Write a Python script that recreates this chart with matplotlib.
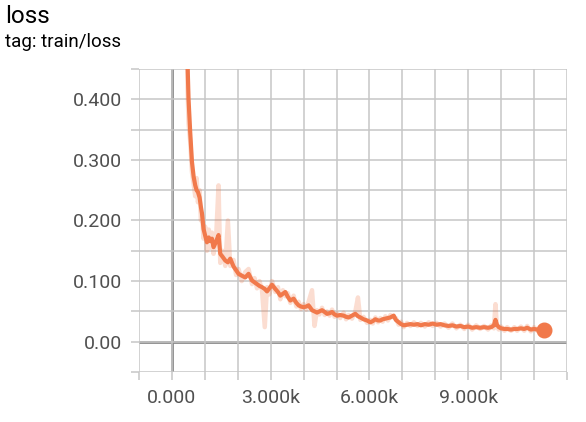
import numpy as np
import matplotlib
matplotlib.use("Agg")
import matplotlib.pyplot as plt
from matplotlib.ticker import MultipleLocator, FuncFormatter

plt.rcParams.update({
    'font.family': ['Roboto', 'DejaVu Sans'],
})

# ── data ────────────────────────────────────────────────
steps = [440, 474, 505, 556, 608, 660, 708, 750, 790, 840, 881, 912, 960, 1010,
         1064, 1120, 1170, 1216, 1264, 1340, 1416, 1468, 1540, 1620, 1700, 1772,
         1872, 1950, 2024, 2120, 2228, 2328, 2432, 2510, 2584, 2660, 2736, 2820,
         2888, 2960, 3040, 3140, 3220, 3292, 3370, 3444, 3520, 3596, 3696, 3780,
         3848, 3920, 4000, 4080, 4152, 4255, 4330, 4407, 4480, 4559, 4640, 4711,
         4790, 4863, 4940, 5015, 5110, 5216, 5290, 5368, 5470, 5571, 5650, 5723,
         5820, 5927, 6027, 6100, 6179, 6260, 6331, 6400, 6483, 6560, 6635, 6736,
         6800, 6888, 6960, 7040, 7140, 7243, 7350, 7460, 7560, 7680, 7800, 7920,
         8040, 8160, 8280, 8400, 8520, 8640, 8760, 8880, 9000, 9120, 9240, 9360,
         9480, 9600, 9700, 9780, 9827, 9870, 9927, 10000, 10100, 10182, 10300,
         10400, 10486, 10600, 10700, 10790, 10900, 11000, 11094, 11200, 11295]

loss_smooth = [0.75, 0.46, 0.40, 0.345, 0.297, 0.272, 0.258, 0.250, 0.247, 0.238,
               0.222, 0.212, 0.186, 0.175, 0.164, 0.172, 0.166, 0.170, 0.156, 0.165,
               0.176, 0.145, 0.140, 0.134, 0.131, 0.137, 0.124, 0.118, 0.112, 0.109,
               0.106, 0.112, 0.101, 0.098, 0.095, 0.092, 0.090, 0.087, 0.083, 0.088,
               0.094, 0.087, 0.082, 0.076, 0.079, 0.082, 0.074, 0.068, 0.071, 0.064,
               0.060, 0.058, 0.057, 0.058, 0.060, 0.052, 0.050, 0.048, 0.050, 0.052,
               0.049, 0.046, 0.047, 0.049, 0.045, 0.043, 0.044, 0.043, 0.041, 0.040,
               0.043, 0.046, 0.042, 0.040, 0.037, 0.035, 0.032, 0.034, 0.037, 0.035,
               0.035, 0.037, 0.038, 0.039, 0.040, 0.043, 0.036, 0.032, 0.029, 0.027,
               0.028, 0.029, 0.028, 0.029, 0.027, 0.029, 0.028, 0.030, 0.028, 0.029,
               0.027, 0.026, 0.027, 0.025, 0.026, 0.024, 0.025, 0.023, 0.024, 0.023,
               0.024, 0.023, 0.024, 0.027, 0.036, 0.028, 0.024, 0.022, 0.021, 0.021,
               0.020, 0.021, 0.021, 0.022, 0.021, 0.023, 0.020, 0.021, 0.020, 0.020,
               0.020]

loss_raw = [0.80, 0.42, 0.36, 0.33, 0.28, 0.26, 0.24, 0.27, 0.23, 0.25, 0.20, 0.21,
            0.17, 0.19, 0.15, 0.185, 0.155, 0.18, 0.145, 0.17, 0.258, 0.13, 0.15,
            0.125, 0.20, 0.125, 0.135, 0.11, 0.12, 0.10, 0.115, 0.12, 0.095, 0.105,
            0.088, 0.10, 0.085, 0.024, 0.09, 0.078, 0.10, 0.082, 0.09, 0.07, 0.085,
            0.075, 0.08, 0.064, 0.076, 0.058, 0.066, 0.054, 0.062, 0.053, 0.066,
            0.085, 0.026, 0.052, 0.045, 0.056, 0.044, 0.05, 0.043, 0.053, 0.041,
            0.047, 0.039, 0.048, 0.037, 0.044, 0.038, 0.05, 0.073, 0.036, 0.041,
            0.031, 0.036, 0.030, 0.040, 0.032, 0.039, 0.033, 0.042, 0.035, 0.044,
            0.040, 0.039, 0.028, 0.033, 0.024, 0.031, 0.026, 0.032, 0.026, 0.031,
            0.025, 0.032, 0.026, 0.031, 0.025, 0.030, 0.023, 0.030, 0.022, 0.028,
            0.021, 0.028, 0.020, 0.027, 0.021, 0.026, 0.020, 0.027, 0.022, 0.062,
            0.025, 0.020, 0.025, 0.018, 0.024, 0.018, 0.024, 0.018, 0.025, 0.018,
            0.026, 0.017, 0.024, 0.018, 0.023, 0.020]

x_labels = {0: "0.000", 3000: "3.000k", 6000: "6.000k", 9000: "9.000k"}
y_labels = {0.0: "0.00", 0.1: "0.100", 0.2: "0.200", 0.3: "0.300", 0.4: "0.400"}

LINE = '#f1794b'
GRID = '#c6c6c6'
TXT = '#505050'

fig = plt.figure(figsize=(5.86, 4.22), dpi=100)
ax = fig.add_axes([0.2372, 0.1185, 0.7304, 0.7180])

ax.plot(steps, loss_raw, color=LINE, alpha=0.25, lw=3.2, zorder=3)
ax.plot(steps, loss_smooth, color=LINE, lw=3.0, zorder=4)
ax.plot(steps[-1], loss_smooth[-1], 'o', color=LINE, ms=10.5, zorder=5)

ax.set_xlim(-1000, 12000)
ax.set_ylim(-0.05, 0.45)

ax.xaxis.set_major_locator(MultipleLocator(1000))
ax.yaxis.set_major_locator(MultipleLocator(0.05))
ax.xaxis.set_major_formatter(FuncFormatter(lambda v, p: x_labels.get(int(round(v)), "")))
ax.yaxis.set_major_formatter(FuncFormatter(lambda v, p: y_labels.get(round(v, 2), "")))

ax.grid(True, color=GRID, lw=1.1, zorder=0)
ax.axhline(0, color='#8a8a8a', lw=2.0, zorder=1)
ax.axvline(0, color='#8a8a8a', lw=2.0, zorder=1)
for s in ax.spines.values():
    s.set_visible(False)
ax.tick_params(axis='both', length=6, width=1.1, color=GRID, labelcolor=TXT,
               labelsize=14, pad=6)

fig.text(0.009, 0.945, "loss", fontsize=17.5, color='black', va='baseline')
fig.text(0.009, 0.888, "tag: train/loss", fontsize=13.5, color='black', va='baseline')

fig.savefig("out.png", dpi=100)
